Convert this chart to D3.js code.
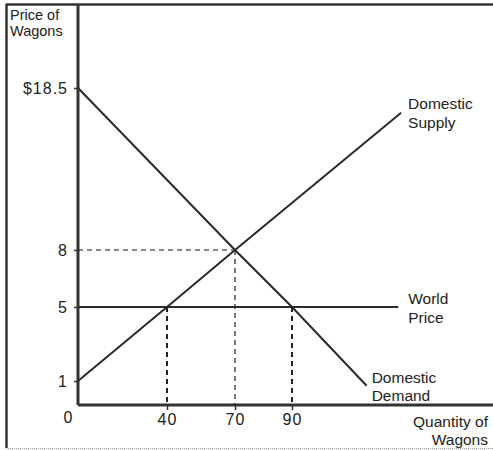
<!DOCTYPE html>
<html>
<head>
<meta charset="utf-8">
<script src="https://cdn.jsdelivr.net/npm/d3@7"></script>
<style>
  body { margin: 0; background: #fff; }
  text { font-family: "Liberation Sans", Arial, sans-serif; fill: #222; }
</style>
</head>
<body>
<svg id="chart" width="493" height="450"></svg>
<script>
// tick values on each axis
var priceTicks = [0, 1, 5, 8, 18.5];
var priceLabels = ["0", "1", "5", "8", "$18.5"];
var qtyTicks = [40, 70, 90];

// curves, as [quantity, price]
var supply = [[0, 1], [40, 5], [70, 8], [128, 16.9]];
var demand = [[0, 18.5], [70, 8], [90, 5], [116, 0.8]];
var worldPrice = [[0, 5], [127, 5]];

// guide lines (dashed)
var guides = [
	{ pts: [[0, 8], [70, 8]], color: "#888" },
	{ pts: [[70, 8], [70, 0]], color: "#777" },
	{ pts: [[40, 5], [40, 0]], color: "#222" },
	{ pts: [[90, 5], [90, 0]], color: "#222" }
];

var svg = d3.select("#chart");

// the sketch is not to scale, so both scales are piecewise
var x = d3.scaleLinear()
	.domain([0, 40, 70, 90, 160])
	.range([78, 167, 235, 292, 493]);
var y = d3.scaleLinear()
	.domain([0, 1, 5, 8, 18.5, 24])
	.range([405, 381, 307, 250, 88, 4]);

var line = d3.line()
	.x(function(d) { return x(d[0]); })
	.y(function(d) { return y(d[1]); });

// frame
svg.append("line").attr("x1", 6.5).attr("y1", 4).attr("x2", 6.5).attr("y2", 448)
	.attr("stroke", "#333").attr("stroke-width", 2.5);
svg.append("line").attr("x1", 6).attr("y1", 4.5).attr("x2", 493).attr("y2", 4.5)
	.attr("stroke", "#333").attr("stroke-width", 2.5);
svg.append("line").attr("x1", 6).attr("y1", 448.5).attr("x2", 493).attr("y2", 448.5)
	.attr("stroke", "#999").attr("stroke-width", 1).attr("stroke-dasharray", "1,1");

// dashed guides
svg.append("g").selectAll("path")
	.data(guides)
	.enter().append("path")
	.attr("d", function(d) { return line(d.pts); })
	.attr("fill", "none")
	.attr("stroke", function(d) { return d.color; })
	.attr("stroke-width", 2)
	.attr("stroke-dasharray", "5,4");

// curves
svg.append("g").selectAll("path")
	.data([supply, demand, worldPrice])
	.enter().append("path")
	.attr("d", line)
	.attr("fill", "none")
	.attr("stroke", "#2a2a2a")
	.attr("stroke-width", 2);

// axes
var yAxis = d3.axisLeft(y)
	.tickValues(priceTicks.filter(function(v) { return v > 0; }))
	.tickSize(4)
	.tickFormat(function(v) { return priceLabels[priceTicks.indexOf(v)]; });
var gy = svg.append("g").attr("transform", "translate(78,0)").call(yAxis);

var xAxis = d3.axisBottom(x)
	.tickValues(qtyTicks)
	.tickSize(5)
	.tickFormat(d3.format("d"));
var gx = svg.append("g").attr("transform", "translate(0,405)").call(xAxis);

[gy, gx].forEach(function(g) {
	g.select(".domain").attr("stroke", "#333").attr("stroke-width", 3);
	g.selectAll(".tick line").attr("stroke", "#333").attr("stroke-width", 1.5);
	g.selectAll(".tick text")
		.style("font-family", "'Liberation Sans', Arial, sans-serif")
		.style("font-size", "16px")
		.style("letter-spacing", "1px")
		.attr("fill", "#222");
});
gy.selectAll(".tick text").attr("x", -10);
gx.selectAll(".tick text").attr("y", 9);
// y axis line runs up to the frame
gy.select(".domain").attr("d", "M0," + y(24) + "V" + y(0));
gx.select(".domain").attr("d", "M" + x(0) + ",0H" + x(160));

// origin label
svg.append("text")
	.attr("x", 68).attr("y", 423)
	.attr("text-anchor", "middle")
	.style("font-size", "16px")
	.text(priceLabels[0]);

// axis titles and curve labels
function label(lines, px, py, anchor, gap, size) {
	var t = svg.append("text")
		.attr("x", px).attr("y", py)
		.attr("text-anchor", anchor || "start")
		.style("font-size", (size || 15.5) + "px");
	lines.forEach(function(s, i) {
		t.append("tspan").attr("x", px).attr("dy", i ? gap : 0).text(s);
	});
}

label(["Price of", "Wagons"], 10, 20, "start", 16, 14.5);
label(["Quantity of", "Wagons"], 488, 427, "end", 18);

var se = supply[supply.length - 1];
label(["Domestic", "Supply"], x(se[0]) + 7, y(se[1]) - 4, "start", 19);

var we = worldPrice[worldPrice.length - 1];
label(["World", "Price"], x(we[0]) + 10, y(we[1]) - 3, "start", 19);

var de = demand[demand.length - 1];
label(["Domestic", "Demand"], x(de[0]) + 5, y(de[1]) - 3, "start", 18);
</script>
</body>
</html>
